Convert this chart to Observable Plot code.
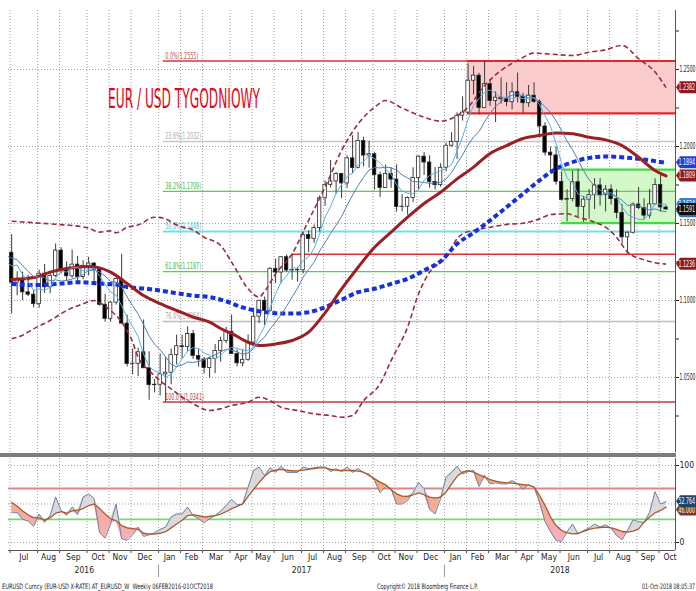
<!DOCTYPE html>
<html><head><meta charset="utf-8">
<script src="https://cdn.jsdelivr.net/npm/d3@7"></script>
<script src="https://cdn.jsdelivr.net/npm/@observablehq/plot@0.6"></script>
<style>
html,body{margin:0;padding:0;background:#fff;}
#wrap{position:relative;width:696px;height:591px;overflow:hidden;background:#fff;}
#main,#osc{position:absolute;left:0;}
#main{top:0;}
#osc{top:455px;}
#sep{position:absolute;left:0;top:453px;width:676px;height:4px;background:#7d7d7d;}
</style></head><body><div id="wrap"><div id="main"></div><div id="osc"></div><div id="sep"></div></div>
<script>
// ---------------- DATA ----------------
const firstBar = "2016-06-24";           // weekly bars (Friday dates)
const firstOpen = 1.1310;
const closesBefore = [1.1223,1.1454,1.1403,1.1310,1.1223,1.1115,1.1367,1.1253,1.1278];
const close = [
1.1116,1.1136,1.1053,1.1038,1.0976,1.1174,1.1086,1.1160,1.1324,1.1198,
1.1157,1.1233,1.1153,1.1225,1.1240,1.1200,1.0972,1.0881,1.0986,1.1140,
1.0850,1.0588,1.0589,1.0664,1.0560,1.0450,1.0453,1.0520,1.0531,1.0645,
1.0703,1.0697,1.0782,1.0640,1.0616,1.0562,1.0621,1.0672,1.0737,1.0797,
1.0652,1.0592,1.0615,1.0727,1.0895,1.0998,1.0933,1.1206,1.1182,1.1281,
1.1195,1.1198,1.1196,1.1426,1.1400,1.1470,1.1664,1.1751,1.1773,1.1821,
1.1760,1.1923,1.1860,1.2035,1.1941,1.1950,1.1814,1.1731,1.1822,1.1785,
1.1607,1.1609,1.1665,1.1795,1.1934,1.1896,1.1770,1.1749,1.1862,1.2005,
1.2030,1.2200,1.2220,1.2427,1.2460,1.2250,1.2405,1.2295,1.2317,1.2307,
1.2288,1.2352,1.2323,1.2281,1.2330,1.2290,1.2130,1.1960,1.1942,1.1771,
1.1654,1.1659,1.1768,1.1607,1.1655,1.1684,1.1747,1.1685,1.1720,1.1658,
1.1568,1.1410,1.1440,1.1623,1.1600,1.1551,1.1624,1.1750,1.1604,1.1591];
const high = [
1.1428,1.1187,1.1185,1.1164,1.1067,1.1198,1.1234,1.1188,1.1367,1.1343,
1.1251,1.1327,1.1286,1.1258,1.1281,1.1245,1.1213,1.1040,1.0990,1.1145,
1.1300,1.0905,1.0685,1.0690,1.0874,1.0667,1.0488,1.0652,1.0629,1.0685,
1.0775,1.0775,1.0829,1.0805,1.0680,1.0630,1.0630,1.0715,1.0762,1.0826,
1.0906,1.0680,1.0680,1.0777,1.0950,1.1000,1.1023,1.1213,1.1268,1.1285,
1.1296,1.1296,1.1214,1.1445,1.1453,1.1490,1.1678,1.1777,1.1910,1.1830,
1.1826,1.1940,1.2070,1.2092,1.2060,1.2034,1.1960,1.1834,1.1880,1.1861,
1.1880,1.1688,1.1673,1.1862,1.1940,1.1961,1.1940,1.1863,1.1888,1.2022,
1.2089,1.2219,1.2323,1.2537,1.2520,1.2475,1.2555,1.2434,1.2355,1.2446,
1.2413,1.2413,1.2476,1.2345,1.2396,1.2414,1.2302,1.2155,1.1996,1.1998,
1.1834,1.1720,1.1840,1.1852,1.1676,1.1720,1.1791,1.1791,1.1746,1.1750,
1.1719,1.1625,1.1446,1.1633,1.1734,1.1660,1.1720,1.1790,1.1815,1.1614];
const low = [
1.0912,1.1030,1.1000,1.1026,1.0952,1.0950,1.1046,1.1044,1.1150,1.1172,
1.1123,1.1144,1.1121,1.1135,1.1160,1.1100,1.0963,1.0858,1.0859,1.0970,
1.0850,1.0569,1.0517,1.0505,1.0560,1.0352,1.0400,1.0380,1.0340,1.0453,
1.0582,1.0620,1.0670,1.0617,1.0568,1.0523,1.0494,1.0525,1.0600,1.0720,
1.0650,1.0569,1.0570,1.0605,1.0721,1.0850,1.0839,1.0925,1.1110,1.1109,
1.1185,1.1132,1.1119,1.1172,1.1312,1.1371,1.1445,1.1612,1.1730,1.1688,
1.1662,1.1728,1.1823,1.1855,1.1868,1.1860,1.1717,1.1669,1.1730,1.1729,
1.1574,1.1575,1.1554,1.1635,1.1715,1.1812,1.1729,1.1718,1.1735,1.1836,
1.1995,1.1916,1.2165,1.2220,1.2335,1.2206,1.2250,1.2260,1.2155,1.2275,
1.2258,1.2238,1.2283,1.2215,1.2254,1.2280,1.2054,1.1938,1.1823,1.1749,
1.1645,1.1510,1.1640,1.1542,1.1508,1.1527,1.1590,1.1613,1.1575,1.1620,
1.1530,1.1365,1.1301,1.1432,1.1590,1.1526,1.1530,1.1620,1.1573,1.1585];

// studies: [week index, value]
const ma30 = [[0,1.1136],[4,1.1149],[7,1.1184],[10,1.1208],[14,1.1220],[16,1.1212],[18,1.1184],[21,1.1110],[24,1.1032],[27,1.0980],[30,1.0935],[33,1.0892],[36,1.0859],[38,1.0818],[40,1.0786],[43,1.0729],[45,1.0708],[48,1.0718],[51,1.0740],[54,1.0794],[57,1.0920],[60,1.1075],[63,1.1216],[66,1.1346],[69,1.1444],[72,1.1541],[75,1.1630],[78,1.1703],[81,1.1790],[84,1.1866],[87,1.1955],[90,1.2006],[93,1.2052],[96,1.2071],[99,1.2087],[102,1.2082],[105,1.2060],[108,1.2043],[111,1.2006],[114,1.1930],[117,1.1844],[119,1.1809]];
const ma52 = [[0,1.1108],[4,1.1100],[9,1.1110],[12,1.1119],[16,1.1110],[19,1.1104],[21,1.1087],[24,1.1078],[27,1.1065],[30,1.1047],[33,1.1032],[36,1.1022],[39,1.0995],[42,1.0955],[45,1.0930],[48,1.0917],[51,1.0915],[54,1.0924],[57,1.0957],[60,1.1005],[63,1.1054],[66,1.1076],[69,1.1108],[72,1.1141],[75,1.1195],[78,1.1255],[81,1.1368],[84,1.1440],[87,1.1520],[90,1.1606],[93,1.1693],[96,1.1780],[99,1.1855],[102,1.1898],[105,1.1926],[108,1.1935],[111,1.1930],[114,1.1920],[117,1.1905],[119,1.1894]];
const bbUpper = [[0,1.1515],[4,1.1505],[8,1.1495],[11,1.1487],[14,1.1470],[16,1.1444],[18,1.1452],[19,1.1440],[21,1.1475],[23,1.1490],[26,1.1541],[28,1.1530],[30,1.1490],[33,1.1457],[35,1.1411],[38,1.1357],[40,1.1249],[43,1.1076],[45,1.1022],[46,1.1060],[48,1.1173],[51,1.1303],[54,1.1520],[57,1.1736],[60,1.1974],[63,1.2147],[66,1.2255],[68,1.2299],[71,1.2250],[75,1.2190],[78,1.2164],[81,1.2201],[83,1.2255],[86,1.2396],[89,1.2494],[92,1.2558],[95,1.2606],[99,1.2597],[102,1.2591],[105,1.2612],[108,1.2628],[111,1.2656],[114,1.2570],[117,1.2483],[119,1.2382]];
const bbLower = [[0,1.0751],[2,1.0775],[4,1.0816],[7,1.0870],[10,1.0935],[13,1.0979],[15,1.1000],[16,1.0985],[18,1.0935],[20,1.0860],[22,1.0730],[23,1.0632],[25,1.0545],[27,1.0480],[29,1.0426],[31,1.0372],[33,1.0329],[36,1.0286],[38,1.0297],[40,1.0318],[43,1.0340],[45,1.0372],[47,1.0350],[49,1.0307],[52,1.0286],[55,1.0264],[58,1.0253],[60,1.0242],[62,1.0253],[64,1.0350],[67,1.0459],[69,1.0610],[72,1.0827],[74,1.1044],[76,1.1184],[79,1.1281],[81,1.1401],[82,1.1433],[84,1.1455],[87,1.1476],[90,1.1494],[93,1.1502],[96,1.1530],[98,1.1558],[101,1.1563],[103,1.1541],[106,1.1509],[108,1.1476],[110,1.1411],[112,1.1314],[115,1.1264],[117,1.1245],[119,1.1236]];

// oscillator (lower panel)
const oscValue = [
38.5,39,30,28,21,37,26,35,59,41.5,
35,46,36,59,63,57,12.6,5.6,24,50,
5,2.6,10,20,7.8,10,12.6,17,20,33,
37,37,46,35,31,25.5,31,35,40.7,48,
56,49,50,72,93.5,98,87,97,91,99,
91,91,91,98,96,97,98,98,92,95.6,
92,98,91,96,90.5,89,80.5,64.5,73,70,
50,50,54.5,65,78,70,43,37,57,85,
91,99,89,92,93.5,72.7,87,76,77.5,76,
76,80.5,76,69,75,72,52,27,14,2.6,
1.3,14,24,11,15.6,18.6,24,20,23,18.6,
9,3.5,15.6,29.5,27,26,39,66,50,52.764];
const oscSignal = [
52,47,41,36,32,32,29,32,38,40,
38,41,42,44,48,50,44,37,31,28,
22,19,18,17,12,11,11,12,14,19,
24,29,35,36,35,33,34,35,37,40,
44,47,50,60,69,78,86,92,94,95,
94,93,93,94,95,96,97,97,95,94,
93.5,93.5,93.5,92.6,91.3,87,82.7,78.4,74.9,68.4,
63.2,60.2,60,62,64.5,62,59,57.6,59,65.4,
76,86,91.3,93.5,91.3,88,85,81.8,79.7,78.4,
77.5,77,76.2,75.3,74.5,71.9,61,48,33,22,
15.6,12.6,11.3,11.7,14.3,17,18.6,19.5,20,19,
17,14.3,13.4,14.7,17.7,26.4,33,38.5,41.6,46];

const fibPct = ["0.0%","23.6%","38.2%","50.0%","61.8%","76.4%","100.0%"];
const fibValue = [1.2555,1.2032,1.1709,1.1448,1.1187,1.0864,1.0341];
const fibFrom = "2017-01-03";
const supportLevel = 1.1300, supportFrom = "2017-06-16";
const redZone = {from: "2018-01-25", lo: 1.2215, hi: 1.2555};
const greenZone = {from: "2018-05-25", lo: 1.1503, hi: 1.1850};

const priceTicks = [1.025,1.05,1.075,1.10,1.125,1.15,1.175,1.20,1.225,1.25,1.275];
const priceLabelled = [1.05,1.10,1.15,1.20,1.25];
const oscTicks = [0,100];
const oscGrid = [0,50,100];
const oscUpper = 70, oscLower = 30;
const firstMonth = "2016-07-01";
const monthLabels = ["Jul","Aug","Sep","Oct","Nov","Dec","Jan","Feb","Mar","Apr","May","Jun","Jul","Aug","Sep","Oct","Nov","Dec","Jan","Feb","Mar","Apr","May","Jun","Jul","Aug","Sep","Oct"];
const yearLabels = ["2016","2017","2018"];
const titleText = "EUR / USD TYGODNIOWY";
const footLeft = "EURUSD Curncy (EUR-USD X-RATE) AT_EURUSD_W  Weekly 06FEB2016-01OCT2018";
const footMid = "Copyright\u00A9 2018 Bloomberg Finance L.P.";
const footRight = "01-Oct-2018 08:05:37";

// ---------------- STYLE / LAYOUT ----------------
const FONT = '"Liberation Sans Narrow","DejaVu Sans Condensed","Arial Narrow",sans-serif';
const fibLine = ["#d6363c","#c8c8c8","#52d052","#74dde6","#52d052","#bdbdbd","#c23b3b"];
const fibText = ["#c05050","#a8a8a8","#3cb93c","#45c4cf","#3cb93c","#a8a8a8","#b33a3a"];
const fibW = [1.5,1.5,1.3,2,1.3,1.5,1.3];
const W = 696;
const xDomain = [new Date("2016-06-20"), new Date("2018-10-17")];
const yDomain = [1.0013, 1.2883];
const oscDomain = [-10.4, 109.1];
const DAY = 864e5;
const dotted = {stroke: "#a0a0a0", strokeDasharray: "1,2", strokeWidth: 1};

// ---------------- DERIVED ROWS ----------------
const start = new Date(firstBar);
const weekDate = i => new Date(+start + 7 * DAY * i);
const candles = close.map((c, i) => ({date: weekDate(i), open: i ? close[i - 1] : firstOpen, high: high[i], low: low[i], close: c}));
const ext = closesBefore.map((c, j) => ({date: weekDate(j - closesBefore.length), close: c}))
  .concat(candles.map(d => ({date: d.date, close: d.close})));
const rows = arr => arr.map(([w, v]) => ({date: weekDate(w), value: v}));
const fibRows = fibPct.map((p, k) => ({pct: p, value: fibValue[k], line: fibLine[k], text: fibText[k], w: fibW[k]}));
const oscRows = oscValue.map((v, i) => ({date: weekDate(i), val: v, sig: oscSignal[i]}));

const gridDate = m => d3.utcDay.offset(d3.utcFriday.floor(d3.utcDay.offset(m, -1)), -2);
const months = monthLabels.map((name, k) => {
  const m = d3.utcMonth.offset(new Date(firstMonth), k);
  const a = gridDate(m), b = gridDate(d3.utcMonth.offset(m, 1));
  return {name, grid: a, mid: new Date((+a + +b) / 2)};
});
const gridDates = months.map(d => d.grid);
const yearStarts = [new Date("2017-01-01"), new Date("2018-01-01")].map(gridDate);
const yearBounds = [gridDates[0], ...yearStarts, xDomain[1]];
const years = yearLabels.map((name, k) => ({name, mid: new Date((+yearBounds[k] + +yearBounds[k + 1]) / 2)}));
const xEnd = () => xDomain[1];
const dash = {strokeDasharray: "5,3", strokeLinecap: "butt", strokeLinejoin: "miter"};

// ---------------- MAIN PANEL ----------------
const main = Plot.plot({
  width: W, height: 455,
  marginTop: 10, marginBottom: 3, marginLeft: 8, marginRight: 21,
  style: {fontFamily: FONT, fontSize: "8.5px", background: "transparent", color: "#222"},
  x: {type: "utc", domain: xDomain, axis: null},
  y: {domain: yDomain, axis: "right", ticks: priceTicks, tickSize: 3, tickPadding: 1, label: null,
      tickFormat: d => priceLabelled.some(v => Math.abs(v - d) < 1e-9) ? d.toFixed(4) : ""},
  color: {type: "identity"},
  marks: [
    Plot.ruleX(gridDates, dotted),
    Plot.ruleY(priceLabelled, dotted),
    Plot.rect([redZone], {x1: d => new Date(d.from), x2: xEnd, y1: "lo", y2: "hi", fill: "#fbcccc"}),
    Plot.rect([greenZone], {x1: d => new Date(d.from), x2: xEnd, y1: "lo", y2: "hi", fill: "#d4f8c9"}),
    Plot.ruleY(fibRows, {y: "value", x1: () => new Date(fibFrom), x2: xEnd, stroke: "line", strokeWidth: "w"}),
    Plot.ruleY([supportLevel], {x1: () => new Date(supportFrom), x2: xEnd, stroke: "#e0303a", strokeWidth: 1.6}),
    Plot.ruleY([redZone.lo, redZone.hi], {x1: () => new Date(redZone.from), x2: xEnd, stroke: "#e3262d", strokeWidth: 2.2}),
    Plot.ruleY([greenZone.lo, greenZone.hi], {x1: () => new Date(greenZone.from), x2: xEnd, stroke: "#43d943", strokeWidth: 2.2}),
    Plot.text(fibRows, {x: () => new Date(fibFrom), y: "value", text: d => `${d.pct}(${d.value.toFixed(4)})`, fill: "text", textAnchor: "start", dx: 2, dy: -5, fontSize: 8}),
    Plot.ruleX(candles, {x: "date", y1: "low", y2: "high", stroke: "#3a3a3a", strokeWidth: 1}),
    Plot.rect(candles, {x1: d => new Date(+d.date - 2.2 * DAY), x2: d => new Date(+d.date + 2.2 * DAY), y1: "open", y2: "close",
      fill: d => d.close >= d.open ? "#ffffff" : "#000000", stroke: "#2a2a2a", strokeWidth: 0.8}),
    Plot.line(rows(bbUpper), {x: "date", y: "value", stroke: "#9c2b3b", strokeWidth: 1.6, curve: "monotone-x", ...dash}),
    Plot.line(rows(bbLower), {x: "date", y: "value", stroke: "#9c2b3b", strokeWidth: 1.6, curve: "monotone-x", ...dash}),
    Plot.line(rows(ma52), {x: "date", y: "value", stroke: "#1430e0", strokeWidth: 4, curve: "monotone-x", ...dash}),
    Plot.line(rows(ma30), {x: "date", y: "value", stroke: "#9b1f24", strokeWidth: 3, curve: "monotone-x"}),
    Plot.lineY(ext, Plot.windowY({k: 10, anchor: "end", reduce: "mean"}, {x: "date", y: "close", stroke: "#4f7fb8", strokeWidth: 1, clip: true})),
    Plot.lineY(ext, Plot.windowY({k: 5, anchor: "end", reduce: "mean"}, {x: "date", y: "close", stroke: "#56b0ea", strokeWidth: 1, clip: true})),
    Plot.ruleX([xDomain[1]], {stroke: "#555"})
  ]
});
document.getElementById("main").appendChild(main);

// ---------------- OSCILLATOR PANEL ----------------
const osc = Plot.plot({
  width: W, height: 136,
  marginTop: 3, marginBottom: 41, marginLeft: 8, marginRight: 21,
  style: {fontFamily: FONT, fontSize: "8.5px", background: "transparent", color: "#222"},
  x: {type: "utc", domain: xDomain, axis: null},
  y: {domain: oscDomain, axis: "right", ticks: oscTicks, tickSize: 3, tickPadding: 1, label: null, tickFormat: d => String(d)},
  color: {type: "identity"},
  marks: [
    Plot.ruleX(gridDates, dotted),
    Plot.ruleY(oscGrid, dotted),
    Plot.ruleY([oscUpper], {stroke: "#e08686", strokeWidth: 2}),
    Plot.ruleY([oscLower], {stroke: "#6fdc6f", strokeWidth: 1.6}),
    Plot.areaY(oscRows, {x: "date", y1: "sig", y2: d => Math.max(d.val, d.sig), fill: "#dadada"}),
    Plot.areaY(oscRows, {x: "date", y1: d => Math.min(d.val, d.sig), y2: "sig", fill: "url(#oscGrad)"}),
    Plot.line(oscRows, {x: "date", y: "val", stroke: "#6d82a3", strokeWidth: 1}),
    Plot.line(oscRows, {x: "date", y: "sig", stroke: "#a65a32", strokeWidth: 1.3}),
    Plot.ruleY([oscDomain[0]], {stroke: "#555"}),
    Plot.ruleX([xDomain[1]], {stroke: "#555"}),
    Plot.ruleX(gridDates, {y1: oscDomain[0], y2: oscDomain[0] - 4, stroke: "#555"}),
    Plot.text(months, {x: "mid", text: "name", frameAnchor: "bottom", dy: 9, fill: "#222"}),
    Plot.text(years, {x: "mid", text: "name", frameAnchor: "bottom", dy: 22, fill: "#222"}),
    Plot.ruleX(yearStarts, {y1: -29.5, y2: -45.5, stroke: "#999"})
  ]
});
document.getElementById("osc").appendChild(osc);

// ---------------- ANNOTATIONS ----------------
function scaleFn(chart, name) {
  const s = chart.scale(name);
  return s.apply ? s.apply : d3.scaleLinear(s.domain, s.range);
}
const yMain = scaleFn(main, "y");
const yOsc = scaleFn(osc, "y");

// gradient for the "below signal" fill
const defs = d3.select(osc).insert("defs", ":first-child");
const grad = defs.append("linearGradient").attr("id", "oscGrad").attr("gradientUnits", "userSpaceOnUse")
  .attr("x1", 0).attr("x2", 0).attr("y1", yOsc(100)).attr("y2", yOsc(0));
grad.append("stop").attr("offset", 0).attr("stop-color", "#f4a56a");
grad.append("stop").attr("offset", 1).attr("stop-color", "#f8b0bd");

// condensed text
d3.select(main).selectAll("text").filter(function () { return /%\(/.test(this.textContent); })
  .attr("textLength", function () { return this.textContent.length * 2.75; }).attr("lengthAdjust", "spacingAndGlyphs");
d3.select(main).selectAll("text").filter(function () { return /^\d\.\d{4}$/.test(this.textContent); })
  .attr("textLength", 16).attr("lengthAdjust", "spacingAndGlyphs");

// title
d3.select(main).append("text").attr("x", 108).attr("y", 108).attr("font-size", 27).attr("font-family", FONT)
  .attr("text-anchor", "start").attr("fill", "#e3061b").attr("textLength", 152).attr("lengthAdjust", "spacingAndGlyphs").text(titleText);

// value tags on the right edge
function tag(svg, y, label, bg) {
  const g = d3.select(svg).append("g");
  g.append("path").attr("d", `M676,${y} L680,${y - 6} L700,${y - 6} L700,${y + 6} L680,${y + 6} Z`).attr("fill", bg);
  g.append("text").attr("x", 678.5).attr("y", y).attr("dy", "0.35em").attr("text-anchor", "start").attr("fill", "#fff").attr("font-size", 8.5)
    .attr("font-family", FONT).attr("textLength", 16.5).attr("lengthAdjust", "spacingAndGlyphs").text(label);
}
const last = a => a[a.length - 1][1];
const fastLast = d3.mean(close.slice(-5)), slowLast = d3.mean(close.slice(-10));
tag(main, yMain(last(bbUpper)), last(bbUpper).toFixed(4), "#8e1b24");
tag(main, yMain(last(ma52)), last(ma52).toFixed(4), "#1d3fd8");
tag(main, yMain(last(ma30)), last(ma30).toFixed(4), "#8e1b24");
tag(main, yMain(fastLast), fastLast.toFixed(4), "#2f7fd0");
tag(main, yMain(slowLast), slowLast.toFixed(4), "#3d6fa8");
tag(main, yMain(close[close.length - 1]), close[close.length - 1].toFixed(4), "#0c0c0c");
tag(main, yMain(last(bbLower)), last(bbLower).toFixed(4), "#8e1b24");
tag(osc, yOsc(oscSignal[oscSignal.length - 1]) + 3, oscSignal[oscSignal.length - 1].toFixed(3), "#7a3a1a");
tag(osc, yOsc(oscValue[oscValue.length - 1]), oscValue[oscValue.length - 1].toFixed(3), "#1f4468");

// footer
const foot = d3.select(osc).append("g").attr("font-family", FONT).attr("font-size", 7.5).attr("fill", "#222").attr("text-anchor", "start");
foot.append("text").attr("x", 2).attr("y", 131).attr("dy", "0.35em").attr("textLength", 211).attr("lengthAdjust", "spacingAndGlyphs").text(footLeft);
foot.append("text").attr("x", 377).attr("y", 131).attr("dy", "0.35em").attr("textLength", 101).attr("lengthAdjust", "spacingAndGlyphs").text(footMid);
foot.append("text").attr("x", 642).attr("y", 131).attr("dy", "0.35em").attr("textLength", 53).attr("lengthAdjust", "spacingAndGlyphs").text(footRight);
</script></body></html>
